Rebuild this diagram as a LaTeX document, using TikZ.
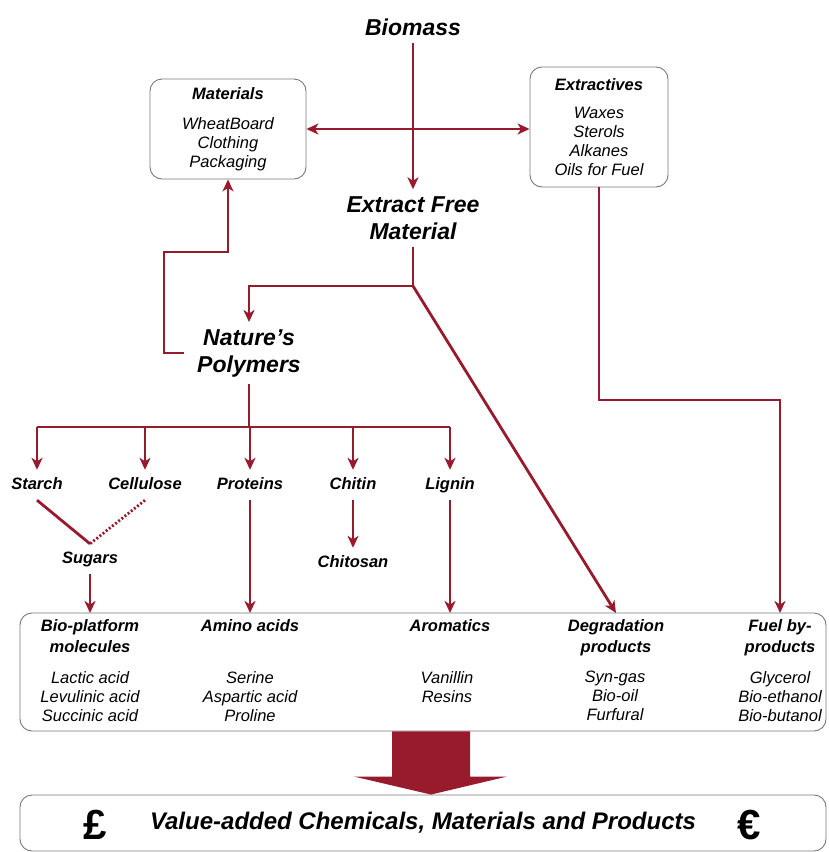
\documentclass[tikz,border=0pt]{standalone}
\usepackage{fontspec}
\setmainfont{Liberation Sans}
\usepackage{xcolor}
\usetikzlibrary{arrows.meta, positioning, calc}
\definecolor{brick}{RGB}{152,27,45}
\definecolor{boxgray}{RGB}{120,120,120}

\tikzset{
  flow/.style={draw=brick, line width=2.8pt, >={Stealth[length=12pt,width=11pt,inset=3.5pt]}},
  bigtitle/.style={font=\fontsize{23}{27}\selectfont\bfseries\itshape, align=center, inner sep=7pt},
  label/.style={font=\fontsize{16.5}{19}\selectfont\bfseries\itshape, text height=12pt, text depth=4pt, inner xsep=2pt, inner ysep=7pt},
  hdr/.style={font=\fontsize{16.5}{21}\selectfont\bfseries\itshape, align=center, anchor=north, inner sep=6pt},
  items/.style={font=\fontsize{16.5}{19}\selectfont\itshape, align=center, anchor=north, inner sep=0pt},
  panel/.style={draw=boxgray, line width=0.9pt, rounded corners=12pt}
}

\begin{document}
\begin{tikzpicture}[x=1pt, y=-1pt]
  \useasboundingbox (0,0) rectangle (828,852);

  % Top of the chain
  \node[bigtitle] (biomass) at (413,27) {Biomass};
  \node[bigtitle] (extract) at (413,218) {Extract Free\\Material};
  \node[bigtitle] (polymers) at (249,353) {Nature's\\Polymers};

  % Side boxes
  \node[panel, minimum width=156pt, minimum height=100pt, align=center,
        font=\fontsize{16.5}{19}\selectfont\itshape] (materials) at (228,129)
        {\textbf{Materials}\\[11pt]WheatBoard\\Clothing\\Packaging};
  \node[panel, minimum width=138pt, minimum height=120pt, align=center,
        font=\fontsize{16.5}{19}\selectfont\itshape] (extractives) at (599,127)
        {\textbf{Extractives}\\[9pt]Waxes\\Sterols\\Alkanes\\Oils for Fuel};

  % Polymer families
  \node[label, anchor=base] (starch) at (37,489) {Starch};
  \node[label, anchor=base] (cellulose) at (145,489) {Cellulose};
  \node[label, anchor=base] (proteins) at (250,489) {Proteins};
  \node[label, anchor=base] (chitin) at (353,489) {Chitin};
  \node[label, anchor=base] (lignin) at (450,489) {Lignin};
  \node[label, anchor=base] (sugars) at (90,563) {Sugars};
  \node[label, anchor=base] (chitosan) at (353,567) {Chitosan};

  % Product panel
  \node[panel, minimum width=806pt, minimum height=118pt] (outbox) at (423,672) {};
  \node[hdr] (bioplat) at (90,613) {Bio-platform\\molecules};
  \node[hdr] (amino) at (250,613) {Amino acids};
  \node[hdr] (aromatics) at (450,613) {Aromatics};
  \node[hdr] (degr) at (616,613) {Degradation\\products};
  \node[hdr] (fuel) at (780,613) {Fuel by-\\products};
  \node[items] (bioplatlist) at (90,671) {Lactic acid\\Levulinic acid\\Succinic acid};
  \node[items] (aminolist) at (250,671) {Serine\\Aspartic acid\\Proline};
  \node[items] (aromlist) at (447,671) {Vanillin\\Resins};
  \node[items] (degrlist) at (615,671) {Syn-gas\\Bio-oil\\Furfural};
  \node[items] (fuellist) at (780,671) {Glycerol\\Bio-ethanol\\Bio-butanol};

  % Final box
  \node[panel, minimum width=806pt, minimum height=56pt,
        font=\fontsize{24}{28}\selectfont\bfseries\itshape] (final) at (423,823)
        {Value-added Chemicals, Materials and Products};
  \node[font=\fontsize{42}{42}\selectfont\bfseries] (pound) at (95,825) {£};
  \node[font=\fontsize{42}{42}\selectfont\bfseries] (euro) at (749,825) {€};

  % Junctions
  \coordinate (split) at (413,286);
  \coordinate (loop) at (164,252);
  \coordinate (fueljog) at (780,400);
  \coordinate (bar) at (249,427);

  % Connectors
  \draw[flow, ->] (biomass) -- (extract);
  \draw[flow, <->] (materials.east) -- (materials.east -| extractives.west);
  \draw[flow] (extract) -- (split);
  \draw[flow, ->] (split) -| (polymers);
  \draw[flow, ->] (split) -- (degr.north);
  \draw[flow, ->] ([xshift=-6pt]polymers.west) -| (loop) -| (materials.south);
  \draw[flow, ->] (extractives.south) |- (fueljog) -- (fuel.north);
  \draw[flow] (polymers) -- (bar);
  \draw[flow] (starch |- bar) -- (lignin |- bar);
  \foreach \n in {starch, cellulose, proteins, chitin, lignin}
    \draw[flow, ->] (\n |- bar) -- (\n.north);
  \draw[flow] (starch.south) -- (sugars.north);
  \draw[flow, dash pattern=on 2pt off 2pt] (cellulose.south) -- (sugars.north);
  \draw[flow, ->] (sugars) -- (bioplat.north);
  \draw[flow, ->] (chitin) -- (chitosan);
  \draw[flow, ->] (proteins) -- (amino.north);
  \draw[flow, ->] (lignin) -- (aromatics.north);

  % Big arrow
  \coordinate (bigtop) at ([xshift=8pt]outbox.south);
  \coordinate (bigtip) at ([xshift=8pt]final.north);
  \fill[brick] ($(bigtop)+(-39,0)$) -- ($(bigtop)+(39,0)$) -- ($(bigtip)+(39,-18)$)
    -- ($(bigtip)+(76,-18)$) -- (bigtip) -- ($(bigtip)+(-77,-18)$)
    -- ($(bigtip)+(-39,-18)$) -- cycle;
\end{tikzpicture}
\end{document}
